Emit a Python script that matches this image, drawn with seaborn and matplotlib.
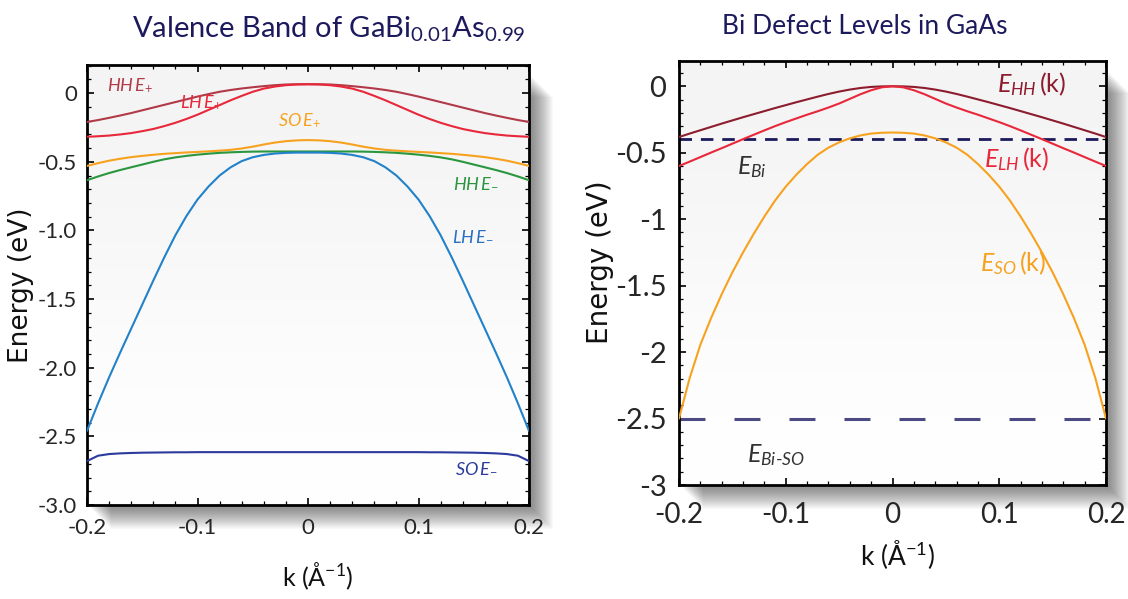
import matplotlib
matplotlib.use("Agg")
import matplotlib.pyplot as plt
import seaborn as sns
import pandas as pd
from matplotlib.patches import Rectangle
from matplotlib.ticker import MultipleLocator
from matplotlib.colors import LinearSegmentedColormap

# ---------------- data ----------------
k = [-0.20, -0.19, -0.18, -0.17, -0.16, -0.15, -0.14, -0.13, -0.12, -0.11, -0.10,
     -0.09, -0.08, -0.07, -0.06, -0.05, -0.04, -0.03, -0.02, -0.01, 0.00,
     0.01, 0.02, 0.03, 0.04, 0.05, 0.06, 0.07, 0.08, 0.09, 0.10,
     0.11, 0.12, 0.13, 0.14, 0.15, 0.16, 0.17, 0.18, 0.19, 0.20]

# Left panel: GaBi0.01As0.99 valence bands
hh_plus = [-0.210, -0.196, -0.180, -0.163, -0.145, -0.125, -0.105, -0.085, -0.065, -0.045, -0.025,
           -0.007, 0.010, 0.023, 0.034, 0.043, 0.051, 0.058, 0.063, 0.065, 0.065,
           0.065, 0.063, 0.058, 0.051, 0.043, 0.034, 0.023, 0.010, -0.007, -0.025,
           -0.045, -0.065, -0.085, -0.105, -0.125, -0.145, -0.163, -0.180, -0.196, -0.210]
lh_plus = [-0.318, -0.314, -0.309, -0.301, -0.291, -0.277, -0.261, -0.240, -0.216, -0.188, -0.157,
           -0.122, -0.087, -0.052, -0.020, 0.010, 0.033, 0.048, 0.058, 0.063, 0.065,
           0.063, 0.058, 0.048, 0.033, 0.010, -0.020, -0.052, -0.087, -0.122, -0.157,
           -0.188, -0.216, -0.240, -0.261, -0.277, -0.291, -0.301, -0.309, -0.314, -0.318]
so_plus = [-0.530, -0.510, -0.492, -0.478, -0.466, -0.457, -0.449, -0.442, -0.437, -0.432, -0.428,
           -0.424, -0.419, -0.413, -0.403, -0.390, -0.374, -0.360, -0.350, -0.344, -0.342,
           -0.344, -0.350, -0.360, -0.374, -0.390, -0.403, -0.413, -0.419, -0.424, -0.428,
           -0.432, -0.437, -0.442, -0.449, -0.457, -0.466, -0.478, -0.492, -0.510, -0.530]
hh_minus = [-0.634, -0.607, -0.582, -0.560, -0.540, -0.520, -0.500, -0.482, -0.468, -0.457, -0.448,
            -0.441, -0.435, -0.431, -0.428, -0.426, -0.425, -0.425, -0.425, -0.425, -0.425,
            -0.425, -0.425, -0.425, -0.425, -0.426, -0.428, -0.431, -0.435, -0.441, -0.448,
            -0.457, -0.468, -0.482, -0.500, -0.520, -0.540, -0.560, -0.582, -0.607, -0.634]
lh_minus = [-2.460, -2.260, -2.070, -1.890, -1.715, -1.540, -1.365, -1.195, -1.035, -0.895, -0.775,
            -0.680, -0.600, -0.540, -0.495, -0.467, -0.450, -0.440, -0.435, -0.433, -0.433,
            -0.433, -0.435, -0.440, -0.450, -0.467, -0.495, -0.540, -0.600, -0.680, -0.775,
            -0.895, -1.035, -1.195, -1.365, -1.540, -1.715, -1.890, -2.070, -2.260, -2.460]
so_minus = [-2.680, -2.641, -2.629, -2.624, -2.621, -2.619, -2.618, -2.617, -2.616, -2.616, -2.615,
            -2.615, -2.615, -2.615, -2.615, -2.615, -2.615, -2.615, -2.615, -2.615, -2.615,
            -2.615, -2.615, -2.615, -2.615, -2.615, -2.615, -2.615, -2.615, -2.615, -2.615,
            -2.616, -2.616, -2.617, -2.618, -2.619, -2.621, -2.624, -2.629, -2.641, -2.680]

# Right panel: GaAs host bands and Bi defect levels
e_hh = [-0.382, -0.356, -0.331, -0.306, -0.281, -0.257, -0.233, -0.210, -0.187, -0.164, -0.142,
        -0.120, -0.099, -0.078, -0.058, -0.040, -0.025, -0.013, -0.005, -0.001, 0.000,
        -0.001, -0.005, -0.013, -0.025, -0.040, -0.058, -0.078, -0.099, -0.120, -0.142,
        -0.164, -0.187, -0.210, -0.233, -0.257, -0.281, -0.306, -0.331, -0.356, -0.382]
e_lh = [-0.600, -0.567, -0.533, -0.499, -0.466, -0.432, -0.398, -0.365, -0.332, -0.300, -0.270,
        -0.242, -0.214, -0.188, -0.160, -0.130, -0.095, -0.060, -0.030, -0.008, 0.000,
        -0.008, -0.030, -0.060, -0.095, -0.130, -0.160, -0.188, -0.214, -0.242, -0.270,
        -0.300, -0.332, -0.365, -0.398, -0.432, -0.466, -0.499, -0.533, -0.567, -0.600]
e_so = [-2.500, -2.195, -1.945, -1.745, -1.565, -1.400, -1.250, -1.110, -0.980, -0.860, -0.755,
        -0.665, -0.585, -0.515, -0.462, -0.422, -0.392, -0.370, -0.356, -0.350, -0.348,
        -0.350, -0.356, -0.370, -0.392, -0.422, -0.462, -0.515, -0.585, -0.665, -0.755,
        -0.860, -0.980, -1.110, -1.250, -1.400, -1.565, -1.745, -1.945, -2.195, -2.500]
e_bi = -0.40
e_bi_so = -2.50

x_ticks = [-0.2, -0.1, 0.0, 0.1, 0.2]
x_tick_labels = ["-0.2", "-0.1", "0", "0.1", "0.2"]
left_y_ticks = [0.0, -0.5, -1.0, -1.5, -2.0, -2.5, -3.0]
left_y_labels = ["0", "-0.5", "-1.0", "-1.5", "-2.0", "-2.5", "-3.0"]
right_y_ticks = [0.0, -0.5, -1.0, -1.5, -2.0, -2.5, -3.0]
right_y_labels = ["0", "-0.5", "-1", "-1.5", "-2", "-2.5", "-3"]

for arr in (hh_plus, lh_plus, so_plus, hh_minus, lh_minus, so_minus, e_hh, e_lh, e_so):
    assert len(arr) == len(k)

# ---------------- style ----------------
sns.set_style("ticks")
plt.rcParams["font.family"] = ["Lato", "DejaVu Sans"]
plt.rcParams["mathtext.fontset"] = "custom"
plt.rcParams["mathtext.rm"] = "Lato"
plt.rcParams["mathtext.it"] = "Lato:italic"
plt.rcParams["mathtext.bf"] = "Lato:bold"

W, H = 1128, 599
fig = plt.figure(figsize=(W / 100, H / 100), dpi=100)
fig.patch.set_facecolor("white")


def frac(x0, y0, x1, y1):
    return [x0 / W, 1 - y1 / H, (x1 - x0) / W, (y1 - y0) / H]


def shadow(box):
    l, b, w, h = box
    for d in range(1, 22):
        fig.add_artist(Rectangle((l + (d + 3) / W, b - (d + 3) / H), w, h - 8 / H,
                                 transform=fig.transFigure, facecolor="black",
                                 edgecolor="none", alpha=0.022, zorder=0))


box_l = frac(87, 65, 529, 505)
box_r = frac(679, 61, 1106, 485)
shadow(box_l)
shadow(box_r)
axL = fig.add_axes(box_l, zorder=2)
axR = fig.add_axes(box_r, zorder=2)

NAVY = "#1c1a5c"
bg_cmap = LinearSegmentedColormap.from_list("bg", ["#ffffff", "#f4f4f4"])
for ax in (axL, axR):
    ax.imshow([[1.0], [0.0]], cmap=bg_cmap, extent=(0, 1, 0, 1), transform=ax.transAxes,
              aspect="auto", interpolation="bicubic", zorder=0, vmin=0, vmax=1)

# ---------------- left panel ----------------
left_curves = [
    (hh_plus, "#b23a48"), (lh_plus, "#e8283a"), (so_plus, "#f7a21f"),
    (hh_minus, "#2a963e"), (lh_minus, "#2181c9"), (so_minus, "#2b3a9c"),
]
for vals, col in left_curves:
    df = pd.DataFrame({"k": k, "E": vals})
    sns.lineplot(data=df, x="k", y="E", ax=axL, color=col, linewidth=1.5, zorder=3)

axL.set_xlim(-0.2, 0.2)
axL.set_ylim(-3.0, 0.205)

lab_kw = dict(fontsize=13, ha="left", va="baseline")
axL.text(-0.182, 0.02, r"$HH\,E_{+}$", color="#b23a48", **lab_kw)
axL.text(-0.116, -0.105, r"$LH\,E_{+}$", color="#e8283a", **lab_kw)
axL.text(-0.027, -0.235, r"$SO\,E_{+}$", color="#f7a21f", **lab_kw)
axL.text(0.131, -0.69, r"$HH\,E_{-}$", color="#2a963e", **lab_kw)
axL.text(0.130, -1.08, r"$LH\,E_{-}$", color="#2a70c0", **lab_kw)
axL.text(0.133, -2.77, r"$SO\,E_{-}$", color="#2b3a9c", **lab_kw)

# ---------------- right panel ----------------
right_curves = [(e_hh, "#8c1c2e"), (e_lh, "#e8283a"), (e_so, "#f7a21f")]
for vals, col in right_curves:
    df = pd.DataFrame({"k": k, "E": vals})
    sns.lineplot(data=df, x="k", y="E", ax=axR, color=col, linewidth=1.5, zorder=3)
axR.axhline(e_bi, color="#1c1a5c", linewidth=2.0, dashes=(4.5, 3.2), zorder=2)
axR.axhline(e_bi_so, color="#4c4a82", linewidth=2.2, dashes=(8.5, 9.5), zorder=2)

axR.set_xlim(-0.2, 0.2)
axR.set_ylim(-3.0, 0.19)

rk = dict(fontsize=18, ha="left", va="baseline")
axR.text(0.098, -0.045, r"$E_{HH}\,\mathrm{(k)}$", color="#8c1c2e", **rk)
axR.text(0.086, -0.61, r"$E_{LH}\,\mathrm{(k)}$", color="#e8283a", **rk)
axR.text(0.082, -1.39, r"$E_{SO}\,\mathrm{(k)}$", color="#f7a21f", **rk)
axR.text(-0.146, -0.66, r"$E_{Bi}$", color="#333333", **rk)
axR.text(-0.136, -2.83, r"$E_{Bi\text{-}SO}$", color="#333333", **rk)

# ---------------- axes styling ----------------
for ax, yt, yl, fs_x, fs_y, padx, pady in [
    (axL, left_y_ticks, left_y_labels, 16, 16, 9, 7),
    (axR, right_y_ticks, right_y_labels, 20, 21, 12, 9),
]:
    ax.set_xlabel("")
    ax.set_ylabel("")
    ax.set_xticks(x_ticks)
    ax.set_xticklabels(x_tick_labels, fontsize=fs_x)
    ax.set_yticks(yt)
    ax.set_yticklabels(yl, fontsize=fs_y)
    ax.xaxis.set_minor_locator(MultipleLocator(0.02))
    ax.yaxis.set_minor_locator(MultipleLocator(0.1))
    ax.tick_params(which="both", direction="in", top=True, right=True, color="black")
    ax.tick_params(which="major", length=5, width=1.2)
    ax.tick_params(which="minor", length=3, width=0.9)
    ax.tick_params(axis="x", which="major", pad=padx)
    ax.tick_params(axis="y", which="major", pad=pady)
    for s in ax.spines.values():
        s.set_linewidth(2.0)
        s.set_color("black")

axL.set_xlim(-0.2, 0.2)
axL.set_ylim(-3.0, 0.205)
axR.set_xlim(-0.2, 0.2)
axR.set_ylim(-3.0, 0.19)

# ---------------- titles and axis labels ----------------
fig.text(329 / W, 1 - 37 / H, r"Valence Band of GaBi$_{0.01}$As$_{0.99}$",
         ha="center", va="baseline", fontsize=21, color=NAVY)
fig.text(865 / W, 1 - 34 / H, "Bi Defect Levels in GaAs",
         ha="center", va="baseline", fontsize=19, color=NAVY)

fig.text(21 / W, 1 - 285 / H, "Energy (eV)", rotation=90, ha="center", va="center",
         fontsize=19, family="DejaVu Sans", color="#111111")
fig.text(600 / W, 1 - 262 / H, "Energy (eV)", rotation=90, ha="center", va="center",
         fontsize=20, family="DejaVu Sans", color="#111111")
fig.text(318 / W, 1 - 576 / H, r"k (Å$^{-1}$)", ha="center", va="center",
         fontsize=18, color="#111111")
fig.text(898 / W, 1 - 555 / H, r"k (Å$^{-1}$)", ha="center", va="center",
         fontsize=19, color="#111111")

fig.savefig("out.png", dpi=100, facecolor="white")
